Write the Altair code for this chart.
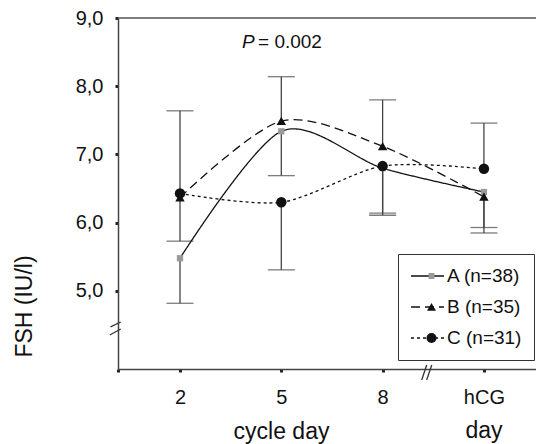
import altair as alt
import pandas as pd

# ---- data ----
days = ["2", "5", "8", "hCG"]
groups = ["A (n=38)", "B (n=35)", "C (n=31)"]
group_keys = ["A", "B", "C"]
a_mean = [5.48, 7.34, 6.80, 6.45]
b_mean = [6.37, 7.49, 7.12, 6.38]
c_mean = [6.43, 6.30, 6.83, 6.79]
# end of each group's one-sided error bar
a_bound = [4.82, 6.69, 6.14, 5.93]
b_bound = [5.73, 8.14, 7.80, 5.85]
c_bound = [7.64, 5.31, 6.11, 7.46]
y_ticks = [5, 6, 7, 8, 9]
p_italic = "P"
p_rest = "= 0.002"
x_title = "cycle day"
hcg_second_line = "day"
y_title = "FSH (IU/l)"

rows = []
for g, k, means, bounds in zip(groups, group_keys, [a_mean, b_mean, c_mean], [a_bound, b_bound, c_bound]):
    for i, (d, m, b) in enumerate(zip(days, means, bounds)):
        rows.append({"g": g, "g2": k, "day": d, "pos": i + 1, "mean": m, "bound": b})
df = pd.DataFrame(rows)
one = pd.DataFrame({"k": [0]})

FONT = "Liberation Sans"
X0, X1 = 0.388, 4.514
Y0, Y1 = 3.857, 9.0
xs = alt.Scale(domain=[X0, X1], nice=False, zero=False)
ys = alt.Scale(domain=[Y0, Y1], nice=False, zero=False)

label_expr = ("datum.value == 1 ? '2' : datum.value == 2 ? '5' : "
              "datum.value == 3 ? '8' : datum.value == 4 ? 'hCG' : ''")

x_axis = alt.Axis(values=[X0, 1, 2, 3, 4], labelExpr=label_expr,
                  title=x_title, titleX=163, titleY=69, titleAlign="center",
                  titleBaseline="alphabetic", titleFont=FONT, titleFontSize=23,
                  titleFontWeight="normal", titleColor="#111",
                  tickSize=3, tickWidth=3, tickColor="#222",
                  domainColor="#444", domainWidth=1.5,
                  labelFont=FONT, labelFontSize=20, labelColor="#111",
                  labelPadding=15, grid=False, labelFlush=False, labelOverlap=False)
y_axis = alt.Axis(values=y_ticks, labelExpr="replace(format(datum.value, '.1f'), '.', ',')",
                  title=y_title, titleX=-94, titleY=288, titleAngle=270,
                  titleAlign="center", titleBaseline="middle", titleFont=FONT,
                  titleFontSize=23, titleFontWeight="normal", titleColor="#111",
                  tickSize=3, tickWidth=3, tickColor="#222",
                  domainColor="#444", domainWidth=1.5,
                  labelFont=FONT, labelFontSize=20, labelColor="#111",
                  labelPadding=12, grid=False)

base = alt.Chart(df)
deco = alt.Chart(one)
X = alt.X("pos:Q", scale=xs, axis=x_axis)
Y = alt.Y("mean:Q", scale=ys, axis=y_axis)

dash_legend = alt.Legend(title=None, orient="none", legendX=280, legendY=236,
                         symbolType="stroke", symbolSize=1089, symbolStrokeColor="#111",
                         symbolStrokeWidth=1.3, labelFont=FONT, labelFontSize=19,
                         labelColor="#111", labelOffset=2, padding=12, strokeColor="#333",
                         rowPadding=11, clipHeight=20)
marker_legend = alt.Legend(title=None, orient="none", legendX=280, legendY=236,
                           symbolOffset=12, symbolSize=100, symbolStrokeWidth=0,
                           labelExpr="''", labelFont=FONT, labelFontSize=19, labelOffset=0,
                           padding=12, rowPadding=11, clipHeight=20)

frame_top = deco.mark_rule(color="#555", strokeWidth=1.5).encode(
    x=alt.datum(X0), x2=alt.datum(X1), y=alt.datum(Y1))

err_rules = base.mark_rule(color="#444", strokeWidth=1.3).encode(
    x=X, y=Y, y2="bound:Q")
err_caps = base.mark_tick(orient="horizontal", color="#444", thickness=1.3, size=27).encode(
    x="pos:Q", y="bound:Q")

lines = base.mark_line(interpolate="cardinal", tension=0.15, color="#111", strokeWidth=1.3).encode(
    x="pos:Q", y="mean:Q",
    strokeDash=alt.StrokeDash("g:N", scale=alt.Scale(domain=groups, range=[[1, 0], [9, 5], [3, 3]]),
                              legend=dash_legend))

shapes = ["M-0.6,-0.6H0.6V0.6H-0.6Z", "M0,-0.8L0.9,0.75H-0.9Z", "circle"]
points = base.mark_point(filled=True, size=110, opacity=1, strokeWidth=0).encode(
    x="pos:Q", y="mean:Q",
    shape=alt.Shape("g2:N", scale=alt.Scale(domain=group_keys, range=shapes), legend=marker_legend),
    fill=alt.Fill("g2:N", scale=alt.Scale(domain=group_keys, range=["#9a9a9a", "#111", "#111"]),
                  legend=marker_legend))

p1 = deco.mark_text(text=p_italic, font=FONT, fontSize=19, fontStyle="italic", color="#111",
                    align="left", baseline="alphabetic").encode(x=alt.datum(1.612), y=alt.datum(8.56))
p2 = deco.mark_text(text=p_rest, font=FONT, fontSize=19, color="#111",
                    align="left", baseline="alphabetic").encode(x=alt.datum(1.770), y=alt.datum(8.56))
day2 = deco.mark_text(text=hcg_second_line, font=FONT, fontSize=23, color="#111",
                      align="center", baseline="alphabetic").encode(x=alt.datum(4), y=alt.value(420))

brk_style = dict(color="#333", strokeWidth=1.3)
yb1 = deco.mark_rule(**brk_style).encode(x=alt.datum(0.314), x2=alt.datum(0.415), y=alt.datum(4.473), y2=alt.datum(4.546))
yb2 = deco.mark_rule(**brk_style).encode(x=alt.datum(0.307), x2=alt.datum(0.415), y=alt.datum(4.355), y2=alt.datum(4.443))
xb1 = deco.mark_rule(**brk_style).encode(x=alt.datum(3.386), x2=alt.datum(3.435), y=alt.datum(3.696), y2=alt.datum(3.916))
xb2 = deco.mark_rule(**brk_style).encode(x=alt.datum(3.435), x2=alt.datum(3.485), y=alt.datum(3.696), y2=alt.datum(3.916))

chart = alt.layer(err_rules, frame_top, err_caps, lines, points, p1, p2, day2, yb1, yb2, xb1, xb2).properties(
    width=418, height=351,
    autosize=alt.AutoSizeParams(type="none"),
    padding={"left": 110, "top": 10, "right": 0, "bottom": 75},
).configure_view(stroke=None)

chart.save("out.html", embed_options={"renderer": "svg", "actions": False})
